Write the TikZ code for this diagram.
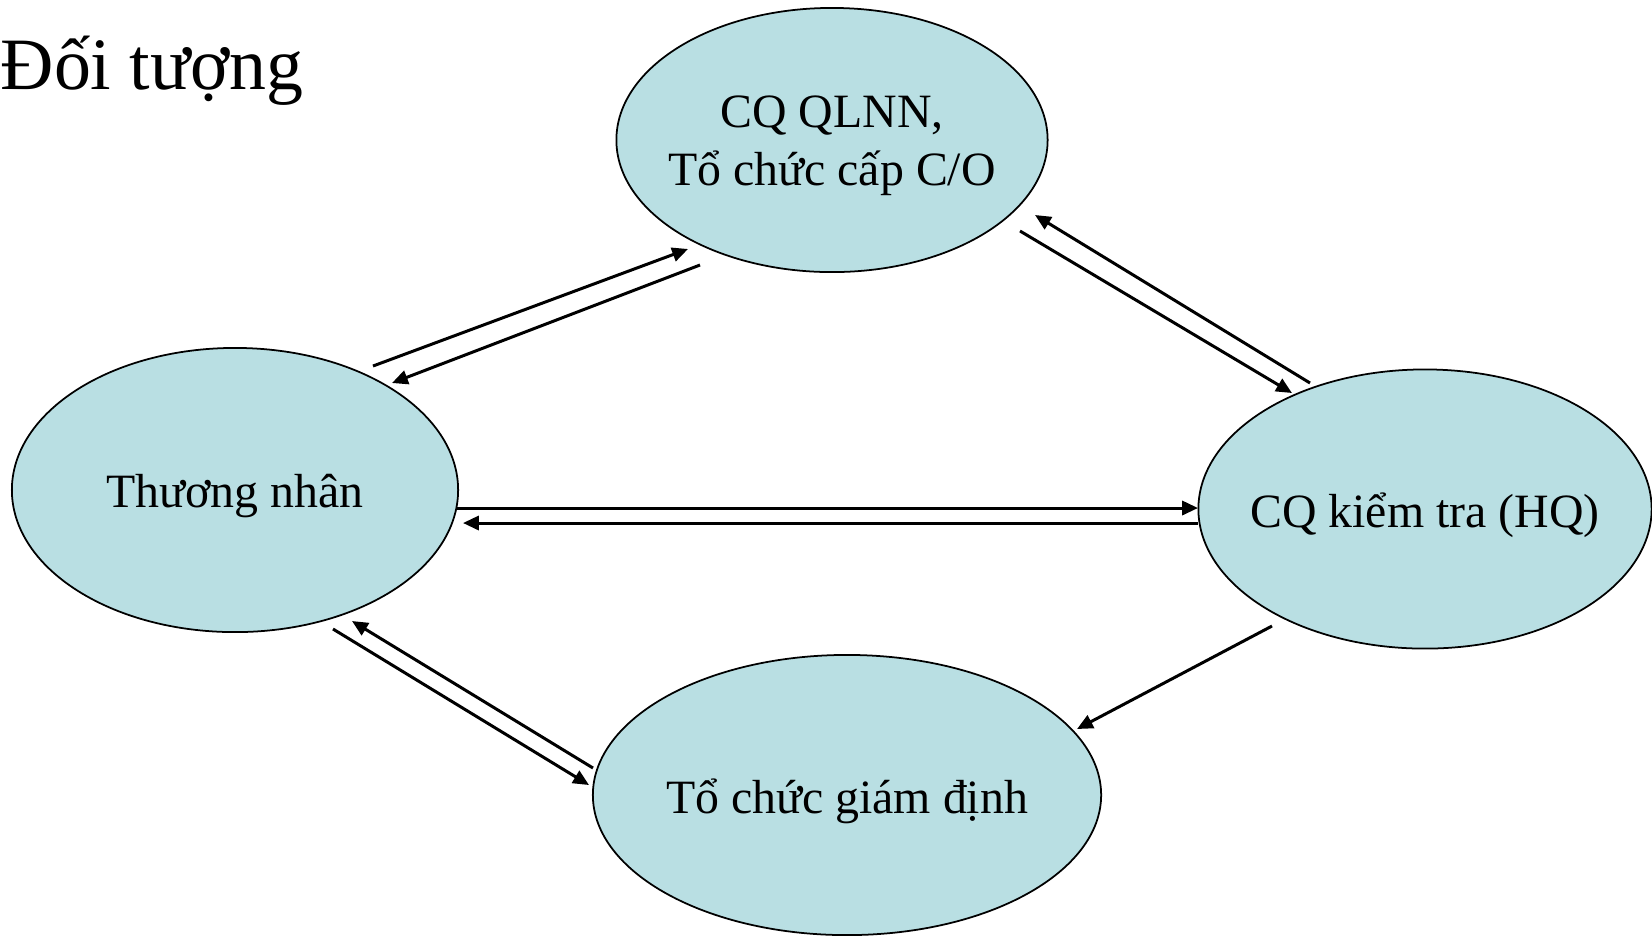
\documentclass[tikz,border=0pt]{standalone}
\usepackage{fontspec}
\setmainfont{Liberation Serif}
\usetikzlibrary{shapes.geometric,arrows.meta}
\definecolor{orgfill}{RGB}{185,223,227}

\begin{document}
\begin{tikzpicture}[x=0.01cm,y=-0.01cm,font=\fontsize{13.6}{16.5}\selectfont]
% Styles for the ellipses and the arrows
\tikzstyle{org node}=[ellipse,draw,fill=orgfill,line width=0.5pt,inner sep=0]
\tikzset{
every label/.style={yshift=-1.7pt},
flow/.style={-{Triangle[length=4.5pt,width=4pt]},line width=0.85pt}
}
\useasboundingbox (0,0) rectangle (1652,935);
\node[anchor=base west,inner sep=0,font=\fontsize{21}{25}\selectfont] (title) at (0,89) {Đối tượng};
\node[org node,minimum width=4.31cm,minimum height=2.64cm,
label={[align=center]center:{CQ QLNN,\\Tổ chức cấp C/O}}] (qlnn) at (832,140) {};
\node[org node,minimum width=4.46cm,minimum height=2.84cm,
label={center:Thương nhân}] (tn) at (235,490) {};
\node[org node,minimum width=4.53cm,minimum height=2.79cm,
label={center:CQ kiểm tra (HQ)}] (hq) at (1425,509) {};
\node[org node,minimum width=5.08cm,minimum height=2.80cm,
label={center:Tổ chức giám định}] (gd) at (847,795) {};
% Arrow ends
\coordinate (tn-qlnn-s) at (373,366);
\coordinate (tn-qlnn-e) at (688,249);
\coordinate (qlnn-tn-s) at (700,265);
\coordinate (qlnn-tn-e) at (392,383);
\coordinate (qlnn-hq-s) at (1020,231);
\coordinate (qlnn-hq-e) at (1292,393);
\coordinate (hq-qlnn-s) at (1310,383);
\coordinate (hq-qlnn-e) at (1035,215);
\coordinate (tn-hq-s) at (457,508);
\coordinate (tn-hq-e) at (1198,508);
\coordinate (hq-tn-s) at (1198,523);
\coordinate (hq-tn-e) at (463,523);
\coordinate (hq-gd-s) at (1272,626);
\coordinate (hq-gd-e) at (1077,729);
\coordinate (tn-gd-s) at (333,629);
\coordinate (tn-gd-e) at (589,785);
\coordinate (gd-tn-s) at (593,768);
\coordinate (gd-tn-e) at (352,621);
\draw[flow] (tn-qlnn-s) -- (tn-qlnn-e);
\draw[flow] (qlnn-tn-s) -- (qlnn-tn-e);
\draw[flow] (qlnn-hq-s) -- (qlnn-hq-e);
\draw[flow] (hq-qlnn-s) -- (hq-qlnn-e);
\draw[flow] (tn-hq-s) -- (tn-hq-e);
\draw[flow] (hq-tn-s) -- (hq-tn-e);
\draw[flow] (hq-gd-s) -- (hq-gd-e);
\draw[flow] (tn-gd-s) -- (tn-gd-e);
\draw[flow] (gd-tn-s) -- (gd-tn-e);
\end{tikzpicture}
\end{document}
